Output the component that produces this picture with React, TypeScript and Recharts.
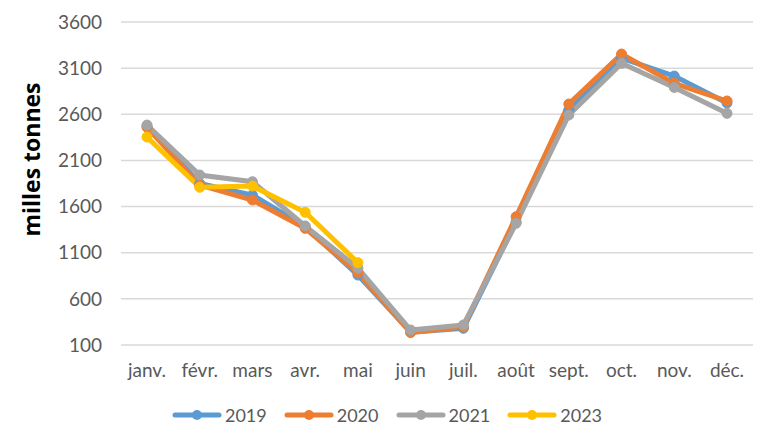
import React from 'react';
import { LineChart, Line, XAxis, YAxis, CartesianGrid } from 'recharts';

const months = ['janv.', 'févr.', 'mars', 'avr.', 'mai', 'juin', 'juil.', 'août', 'sept.', 'oct.', 'nov.', 'déc.'];
const s2019 = [2470, 1850, 1725, 1382, 858, 240, 281, 1433, 2646, 3209, 3014, 2722];
const s2020 = [2460, 1833, 1671, 1364, 883, 235, 295, 1490, 2711, 3253, 2935, 2744];
const s2021 = [2483, 1942, 1869, 1390, 934, 262, 317, 1418, 2592, 3152, 2891, 2610];
const s2023: (number | null)[] = [2353, 1809, 1822, 1538, 992, null, null, null, null, null, null, null];
const yTicks = [100, 600, 1100, 1600, 2100, 2600, 3100, 3600];

const seriesNames = ['2019', '2020', '2021', '2023'];
const colors = ['#5B9BD5', '#ED7D31', '#A5A5A5', '#FFC000'];

const data = months.map((m, i) => ({
  month: m,
  '2019': s2019[i],
  '2020': s2020[i],
  '2021': s2021[i],
  '2023': s2023[i],
}));

const FONT = 'Lato, "Open Sans", sans-serif';

const LegendBlock = () => (
  <div
    style={{
      position: 'absolute',
      top: 404,
      left: 0,
      width: 774,
      display: 'flex',
      justifyContent: 'center',
      alignItems: 'center',
      fontFamily: FONT,
      fontSize: 18,
      color: '#595959',
      height: 22,
    }}
  >
    {seriesNames.map((n, i) => (
      <div key={n} style={{ display: 'flex', alignItems: 'center', marginRight: i < 3 ? 17 : 0 }}>
        <svg width={50} height={14} style={{ marginRight: 3 }}>
          <line x1={3} y1={7} x2={47} y2={7} stroke={colors[i]} strokeWidth={5} strokeLinecap="round" />
          <circle cx={25} cy={7} r={5} fill={colors[i]} />
        </svg>
        <span>{n}</span>
      </div>
    ))}
  </div>
);

export default function App() {
  return (
    <div style={{ position: 'absolute', left: 0, top: 0, width: 774, height: 446, background: '#fff' }}>
      <LineChart width={774} height={446} data={data} margin={{ top: 22, right: 21, left: 0, bottom: 71 }}>
        <CartesianGrid vertical={false} stroke="#D9D9D9" strokeWidth={1.5} />
        <XAxis
          dataKey="month"
          axisLine={false}
          tickLine={false}
          tickSize={0}
          tickMargin={19}
          height={30}
          padding={{ left: 26, right: 26 }}
          tick={{ fill: '#595959', fontSize: 19, fontFamily: FONT }}
          interval={0}
        />
        <YAxis
          domain={[100, 3600]}
          ticks={yTicks}
          axisLine={false}
          tickLine={false}
          tickSize={0}
          tickMargin={19}
          width={121}
          tick={{ fill: '#595959', fontSize: 19, fontFamily: FONT }}
          label={{
            value: 'milles tonnes',
            angle: -90,
            position: 'insideLeft',
            offset: 0,
            dx: 32,
            dy: -24,
            style: { fill: '#000', fontSize: 23, fontWeight: 'bold', fontFamily: '"Open Sans", sans-serif', textAnchor: 'middle' },
          }}
        />
        {seriesNames.map((n, i) => (
          <Line
            key={n}
            dataKey={n}
            stroke={colors[i]}
            strokeWidth={5}
            dot={{ r: 5, fill: colors[i], stroke: colors[i], strokeWidth: 1 }}
            isAnimationActive={false}
            connectNulls={false}
          />
        ))}
      </LineChart>
      <LegendBlock />
    </div>
  );
}
